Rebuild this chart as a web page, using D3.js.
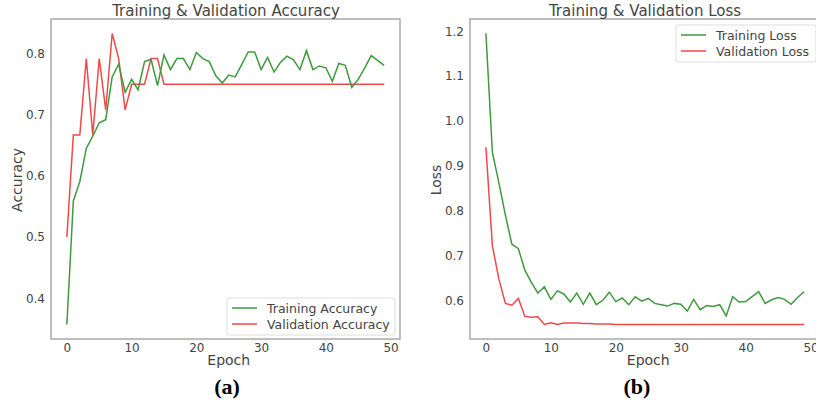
<!DOCTYPE html>
<html>
<head>
<meta charset="utf-8">
<script src="https://cdn.jsdelivr.net/npm/d3@7"></script>
<style>
  body { margin: 0; background: #fff; }
  svg { display: block; }
  text { font-family: "DejaVu Sans", sans-serif; fill: #444; }
</style>
</head>
<body>
<script>
// data
var epochs = d3.range(50);

var trainAcc = [0.357, 0.559, 0.591, 0.645, 0.665, 0.687, 0.692, 0.762, 0.783, 0.737,
                0.758, 0.741, 0.787, 0.791, 0.748, 0.798, 0.774, 0.792, 0.792, 0.774,
                0.802, 0.792, 0.787, 0.764, 0.752, 0.765, 0.762, 0.782, 0.803, 0.803,
                0.774, 0.794, 0.770, 0.786, 0.796, 0.790, 0.774, 0.805, 0.774, 0.780,
                0.777, 0.755, 0.784, 0.781, 0.745, 0.758, 0.777, 0.797, 0.789, 0.781];

var valAcc = [0.500, 0.667, 0.667, 0.792, 0.667, 0.792, 0.708, 0.833, 0.792, 0.708,
              0.750, 0.750, 0.750, 0.792, 0.792, 0.750, 0.750, 0.750, 0.750, 0.750,
              0.750, 0.750, 0.750, 0.750, 0.750, 0.750, 0.750, 0.750, 0.750, 0.750,
              0.750, 0.750, 0.750, 0.750, 0.750, 0.750, 0.750, 0.750, 0.750, 0.750,
              0.750, 0.750, 0.750, 0.750, 0.750, 0.750, 0.750, 0.750, 0.750, 0.750];

var trainLoss = [1.195, 0.930, 0.862, 0.790, 0.725, 0.715, 0.667, 0.640, 0.616, 0.630,
                 0.602, 0.621, 0.614, 0.596, 0.616, 0.591, 0.616, 0.590, 0.600, 0.618,
                 0.597, 0.605, 0.590, 0.608, 0.598, 0.604, 0.593, 0.590, 0.587, 0.593,
                 0.591, 0.576, 0.602, 0.579, 0.588, 0.586, 0.590, 0.565, 0.608, 0.596,
                 0.597, 0.608, 0.619, 0.593, 0.601, 0.606, 0.602, 0.591, 0.606, 0.619];

var valLoss = [0.941, 0.721, 0.647, 0.593, 0.589, 0.604, 0.564, 0.562, 0.563, 0.546,
               0.550, 0.546, 0.549, 0.549, 0.549, 0.548, 0.548, 0.547, 0.547, 0.547,
               0.546, 0.546, 0.546, 0.546, 0.546, 0.546, 0.546, 0.546, 0.546, 0.546,
               0.546, 0.546, 0.546, 0.546, 0.546, 0.546, 0.546, 0.546, 0.546, 0.546,
               0.546, 0.546, 0.546, 0.546, 0.546, 0.546, 0.546, 0.546, 0.546, 0.546];

var xTicks = [0, 10, 20, 30, 40, 50];
var accTicks = [0.4, 0.5, 0.6, 0.7, 0.8];
var lossTicks = [0.6, 0.7, 0.8, 0.9, 1.0, 1.1, 1.2];

var green = "#3f9a3f", red = "#ef4a4a";

var svg = d3.select("body").append("svg")
    .attr("width", 816)
    .attr("height", 401);

// padded domain, like matplotlib's 5% margins
function padded(arr) {
  var e = d3.extent(arr), p = (e[1] - e[0]) * 0.05;
  return [e[0] - p, e[1] + p];
}

function panel(opt) {
  var x = d3.scaleLinear().domain(padded(epochs)).range([opt.left, opt.right]);
  var y = d3.scaleLinear().domain(padded(opt.a.concat(opt.b))).range([339, 19]);

  var g = svg.append("g");

  // frame
  g.append("rect")
    .attr("x", opt.left).attr("y", 19)
    .attr("width", opt.right - opt.left).attr("height", 320)
    .attr("fill", "none").attr("stroke", "#a8a8a8").attr("stroke-width", 1.5);

  // axes (no tick marks, labels only)
  var xAxis = g.append("g")
    .attr("transform", "translate(0,339)")
    .call(d3.axisBottom(x).tickValues(xTicks).tickSize(0).tickPadding(4));
  var yAxis = g.append("g")
    .attr("transform", "translate(" + opt.left + ",0)")
    .call(d3.axisLeft(y).tickValues(opt.ticks).tickFormat(d3.format(".1f")).tickSize(0).tickPadding(6));
  [xAxis, yAxis].forEach(function(a) {
    a.select(".domain").remove();
    a.selectAll("text").style("font-size", "12px").attr("fill", "#444")
      .style("font-family", "'DejaVu Sans', sans-serif");
  });

  var line = function(vals) {
    return d3.line()
      .x(function(d, i) { return x(epochs[i]); })
      .y(function(d) { return y(d); })(vals);
  };

  g.append("path").attr("d", line(opt.b))
    .attr("fill", "none").attr("stroke", red).attr("stroke-width", 1.5);
  g.append("path").attr("d", line(opt.a))
    .attr("fill", "none").attr("stroke", green).attr("stroke-width", 1.5);

  // title & axis labels
  g.append("text")
    .attr("x", opt.titleX).attr("y", 16)
    .attr("text-anchor", "middle").style("font-size", "15px")
    .text(opt.title);
  g.append("text")
    .attr("x", x(25)).attr("y", 365)
    .attr("text-anchor", "middle").style("font-size", "14px")
    .text("Epoch");
  g.append("text")
    .attr("transform", "translate(" + opt.ylabX + ",180) rotate(-90)")
    .attr("text-anchor", "middle").style("font-size", "14px")
    .text(opt.ylab);

  // legend
  var lg = g.append("g").attr("transform", "translate(" + opt.legX + "," + opt.legY + ")");
  lg.append("rect")
    .attr("width", opt.legW).attr("height", 37).attr("rx", 2)
    .attr("fill", "#fff").attr("stroke", "#ddd");
  [[opt.names[0], green], [opt.names[1], red]].forEach(function(d, i) {
    lg.append("line")
      .attr("x1", 5).attr("x2", 30).attr("y1", 10 + i * 16).attr("y2", 10 + i * 16)
      .attr("stroke", d[1]).attr("stroke-width", 1.5);
    lg.append("text")
      .attr("x", 40).attr("y", 14.5 + i * 16)
      .style("font-size", "12.5px")
      .text(d[0]);
  });

  // caption
  svg.append("text")
    .attr("x", opt.capX).attr("y", 394)
    .attr("text-anchor", "middle")
    .style("font-family", "'Liberation Serif', 'Times New Roman', serif")
    .style("font-weight", "bold").style("font-size", "22px")
    .style("fill", "#000")
    .text(opt.cap);
}

panel({
  left: 51, right: 400, a: trainAcc, b: valAcc, ticks: accTicks,
  title: "Training & Validation Accuracy", titleX: 226, ylab: "Accuracy", ylabX: 22,
  names: ["Training Accuracy", "Validation Accuracy"],
  legX: 227, legY: 298, legW: 168, capX: 227, cap: "(a)"
});

panel({
  left: 470, right: 820, a: trainLoss, b: valLoss, ticks: lossTicks,
  title: "Training & Validation Loss", titleX: 645, ylab: "Loss", ylabX: 441,
  names: ["Training Loss", "Validation Loss"],
  legX: 676, legY: 25, legW: 140, capX: 637, cap: "(b)"
});
</script>
</body>
</html>
